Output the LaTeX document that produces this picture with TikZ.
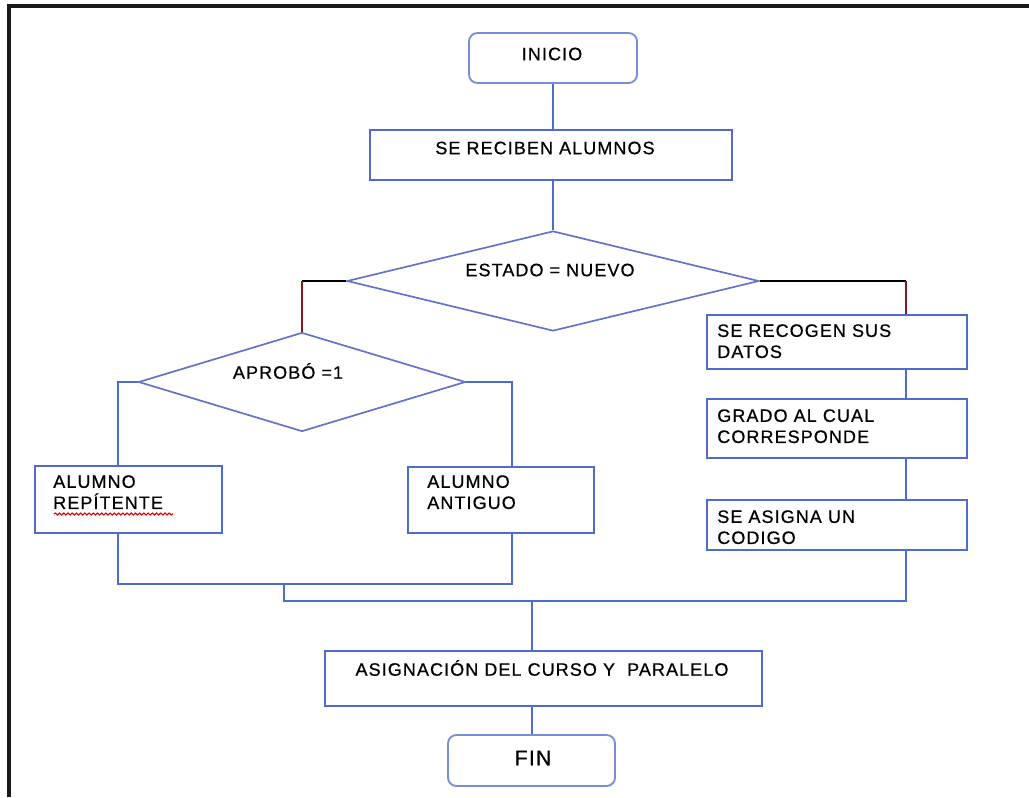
\documentclass[tikz,border=0pt]{standalone}
\usepackage{fontspec}
\setmainfont[LetterSpace=6,FakeBold=0.6]{Liberation Sans}
\usetikzlibrary{shapes.geometric,decorations.pathmorphing}
\def\pxu{0.025cm}
\definecolor{boxblue}{RGB}{78,108,205}
\definecolor{diablue}{RGB}{100,115,200}
\definecolor{termblue}{RGB}{120,140,215}
\definecolor{linkred}{RGB}{130,25,30}
\definecolor{framek}{RGB}{25,25,25}
\tikzset{
  procbox/.style={draw=boxblue, line width=1.3pt, inner sep=0pt, fill=white},
  termbox/.style={draw=termblue, line width=1.3pt, rounded corners=6pt, inner sep=0pt, fill=white},
  decbox/.style={draw=diablue, shape=diamond, line width=1.2pt, inner sep=0pt, fill=white},
  lbl/.style={inner sep=0pt, font=\fontsize{12.8}{15}\selectfont, align=left},
  link/.style={draw=boxblue, line width=1.3pt},
  blink/.style={draw=black, line width=1.3pt},
  rlink/.style={draw=linkred, line width=1.3pt}
}
\begin{document}
\begin{tikzpicture}[x=0.025cm, y=-0.025cm]
\useasboundingbox (0,0) rectangle (1029,797);
% frame
\draw[framek, line width=2.2pt] (9,797) -- (9,6) -- (1029,6);

% nodes
\node[termbox, minimum width={168*\pxu}, minimum height={50*\pxu}] (ini) at (553,58) {};
\node[lbl] at (552,54) {INICIO};
\node[procbox, minimum width={362*\pxu}, minimum height={50*\pxu}] (rec) at (551,155) {};
\node[lbl] at (545,148) {SE RECIBEN ALUMNOS};
\node[decbox, minimum width={412*\pxu}, minimum height={100*\pxu}] (est) at (553,281) {};
\node[lbl] at (550,270) {ESTADO = NUEVO};
\node[decbox, minimum width={327*\pxu}, minimum height={99*\pxu}] (apr) at (302,382) {};
\node[lbl] at (288,371) {APROBÓ =1};
\node[procbox, minimum width={187*\pxu}, minimum height={67*\pxu}] (rep) at (128.5,499.5) {};
\node[lbl, anchor=north west] at (53,475) {ALUMNO\\REPÍTENTE};
\node[procbox, minimum width={186*\pxu}, minimum height={66*\pxu}] (ant) at (501,500) {};
\node[lbl, anchor=north west] at (427,475) {ALUMNO\\ANTIGUO};
\node[procbox, minimum width={260*\pxu}, minimum height={54*\pxu}] (dat) at (837,342) {};
\node[lbl, anchor=north west] at (717,324) {SE RECOGEN SUS\\DATOS};
\node[procbox, minimum width={260*\pxu}, minimum height={59*\pxu}] (gra) at (837,428.5) {};
\node[lbl, anchor=north west] at (717,409) {GRADO AL CUAL\\CORRESPONDE};
\node[procbox, minimum width={260*\pxu}, minimum height={50*\pxu}] (cod) at (837,525) {};
\node[lbl, anchor=north west] at (717,510) {SE ASIGNA UN\\CODIGO};
\node[procbox, minimum width={437*\pxu}, minimum height={55*\pxu}] (asg) at (543.5,678.5) {};
\node[lbl] at (542,668) {ASIGNACIÓN DEL CURSO Y\ \ PARALELO};
\node[termbox, minimum width={167*\pxu}, minimum height={51*\pxu}] (fin) at (531.5,760.5) {};
\node[lbl, font=\fontsize{15}{18}\selectfont] at (533,758) {FIN};

% spell-check squiggle
\draw[red!85!black, line width=0.8pt, decorate, decoration={snake, amplitude=0.7pt, segment length=3pt}] (54,514) -- (173,514);

% helper coordinates
\coordinate (cR) at (906,0);
\coordinate (cL) at (118,0);
\coordinate (cA) at (512,0);
\coordinate (cM) at (532,0);
\coordinate (cT) at (284,0);
\coordinate (cC) at (553,0);
\coordinate (j1) at (0,584);
\coordinate (j2) at (0,601);

% connectors
\draw[link] (cC |- ini.south) -- (cC |- rec.north);
\draw[link] (cC |- rec.south) -- (est.north);
\draw[blink] (est.west) -- (est.west -| apr.north);
\draw[rlink] (est.west -| apr.north) -- (apr.north);
\draw[blink] (est.east) -- (est.east -| cR);
\draw[rlink] (est.east -| cR) -- (cR |- dat.north);
\draw[link] (apr.west) -- (apr.west -| cL) -- (cL |- rep.north);
\draw[link] (apr.east) -- (apr.east -| cA) -- (cA |- ant.north);
\draw[link] (cL |- rep.south) -- (cL |- j1) -- (cA |- j1) -- (cA |- ant.south);
\draw[link] (cR |- dat.south) -- (cR |- gra.north);
\draw[link] (cR |- gra.south) -- (cR |- cod.north);
\draw[link] (cT |- j1) -- (cT |- j2) -- (cR |- j2) -- (cR |- cod.south);
\draw[link] (cM |- j2) -- (cM |- asg.north);
\draw[link] (cM |- asg.south) -- (cM |- fin.north);
\end{tikzpicture}
\end{document}
